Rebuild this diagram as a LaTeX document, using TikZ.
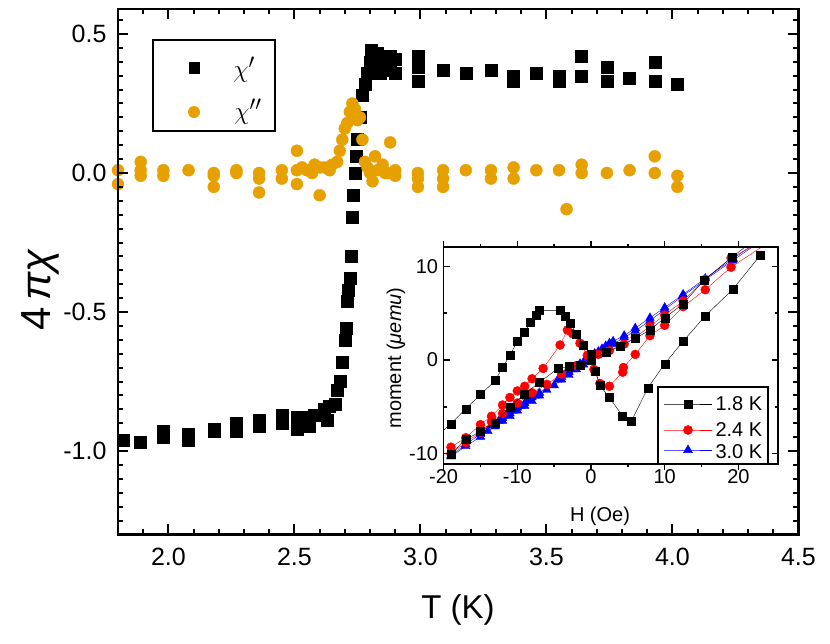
\documentclass[tikz,border=0pt]{standalone}
\usepackage{fontspec}
\setmainfont{Liberation Sans}
\usetikzlibrary{plotmarks}
\definecolor{orng}{RGB}{230,160,0}
\begin{document}
\begin{tikzpicture}[x=1pt,y=-1pt,
  frame/.style={line width=2.6pt},
  tk/.style={line width=2pt},
  lbl/.style={font=\fontsize{25}{28}\selectfont},
  ilbl/.style={font=\fontsize{20}{23}\selectfont}]
\useasboundingbox (0,0) rectangle (830,643);
% ===== main axes (data units) =====
\begin{scope}[shift={(-335.6,173)},x=252pt,y=278pt]
% data chi'
\draw plot[only marks,mark=square*,mark size=6pt,mark options={black}] coordinates {
(1.82,-0.96)(1.89,-0.97)(1.98,-0.95)(1.98,-0.93)(2.08,-0.96)(2.08,-0.94)(2.18,-0.93)(2.18,-0.92)
(2.27,-0.93)(2.27,-0.90)(2.36,-0.91)(2.36,-0.89)(2.45,-0.90)(2.45,-0.87)(2.51,-0.92)(2.51,-0.88)
(2.53,-0.90)(2.55,-0.88)(2.56,-0.91)(2.58,-0.87)(2.60,-0.87)(2.62,-0.85)(2.63,-0.89)(2.64,-0.84)
(2.66,-0.83)(2.67,-0.78)(2.68,-0.75)(2.69,-0.68)(2.70,-0.60)(2.705,-0.56)(2.71,-0.46)(2.715,-0.42)
(2.72,-0.38)(2.725,-0.30)(2.73,-0.16)(2.735,-0.08)(2.74,0.0)(2.745,0.06)(2.75,0.12)(2.76,0.20)
(2.77,0.28)(2.78,0.32)(2.79,0.36)(2.80,0.40)(2.805,0.44)(2.82,0.38)(2.83,0.43)(2.84,0.36)
(2.85,0.41)(2.86,0.39)(2.88,0.42)(2.88,0.37)(2.90,0.41)(2.90,0.36)
(2.99,0.42)(2.99,0.38)(2.99,0.33)(3.09,0.37)(3.18,0.36)(3.28,0.37)(3.37,0.35)(3.37,0.33)
(3.46,0.36)(3.55,0.35)(3.55,0.33)(3.64,0.42)(3.64,0.35)(3.74,0.38)(3.74,0.33)(3.83,0.34)
(3.93,0.40)(3.93,0.33)(4.02,0.32)};
% data chi''
\draw plot[only marks,mark=*,mark size=6pt,mark options={orng,draw=orng}] coordinates {
(1.80,0.01)(1.80,-0.04)(1.89,0.04)(1.89,0.01)(1.89,-0.01)(1.98,0.01)(1.98,-0.01)(2.08,0.01)
(2.18,0.0)(2.18,-0.01)(2.18,-0.05)(2.27,0.01)(2.27,-0.0)(2.36,0.0)(2.36,-0.02)(2.36,-0.07)
(2.45,0.01)(2.45,-0.02)(2.51,-0.04)(2.51,0.01)(2.51,0.08)(2.53,0.02)(2.55,0.01)(2.57,0.0)
(2.58,0.03)(2.60,0.02)(2.60,-0.08)(2.62,0.02)(2.64,0.01)(2.65,0.03)(2.67,0.04)(2.68,0.08)
(2.69,0.12)(2.70,0.16)(2.71,0.18)(2.72,0.22)(2.73,0.25)(2.73,0.20)(2.74,0.23)(2.75,0.19)
(2.76,0.20)(2.77,0.12)(2.78,0.04)(2.79,0.02)(2.80,0.0)(2.81,-0.03)(2.82,0.06)(2.83,0.01)
(2.85,0.03)(2.86,0.0)(2.87,0.0)(2.88,0.11)(2.90,0.01)(2.90,-0.01)
(2.99,0.0)(2.99,-0.02)(2.99,-0.05)(3.09,0.01)(3.09,-0.02)(3.09,-0.05)(3.18,0.01)(3.28,0.01)
(3.28,-0.02)(3.37,0.02)(3.37,-0.02)(3.46,0.01)(3.58,-0.13)(3.55,0.01)(3.64,0.03)(3.64,0.0)
(3.74,0.0)(3.83,0.01)(3.93,0.06)(3.93,0.0)(4.02,-0.01)(4.02,-0.05)};
% frame
\draw[frame] (1.8,-1.3) rectangle (4.5,0.59);
\foreach \t in {2.0,2.5,3.0,3.5,4.0}{
  \draw[tk] (\t,-1.3) -- ++(0,10pt); \draw[tk] (\t,0.59) -- ++(0,-10pt);}
\foreach \t in {1.9,2.1,2.2,2.3,2.4,2.6,2.7,2.8,2.9,3.1,3.2,3.3,3.4,3.6,3.7,3.8,3.9,4.1,4.2,4.3,4.4}{
  \draw[tk] (\t,-1.3) -- ++(0,5pt); \draw[tk] (\t,0.59) -- ++(0,-5pt);}
\foreach \v in {-1.0,-0.5,0.0,0.5}{
  \draw[tk] (1.8,\v) -- ++(10pt,0); \draw[tk] (4.5,\v) -- ++(-10pt,0);}
\foreach \i in {-25,...,11}{
  \pgfmathsetmacro\v{\i*0.05}
  \draw[tk] (1.8,\v) -- ++(5pt,0); \draw[tk] (4.5,\v) -- ++(-5pt,0);}
\foreach \t in {2.0,2.5,3.0,3.5,4.0,4.5}
  \node[lbl,anchor=north] (xt\t) at ([yshift=-10pt]\t,-1.3) {\t};
\foreach \v/\s in {0.5/0.5,0.0/0.0,-0.5/-0.5,-1.0/-1.0}
  \node[lbl,anchor=east] (yt\s) at ([xshift=-8pt]1.8,\v) {\s};
\end{scope}
\node[font=\fontsize{33}{36}\selectfont] (xlab) at (458,610) {T (K)};
\node[font=\fontsize{42}{46}\selectfont,rotate=90] (ylab) at (40,290) {4\,\textit{πχ}};
% main legend
\draw[line width=1.6pt] (153,40) rectangle (275,131);
\node[fill=black,minimum width=11pt,minimum height=12pt,inner sep=0pt] (lg1) at (194,68) {};
\node[fill=orng,circle,minimum size=12pt,inner sep=0pt] (lg2) at (194,112) {};
\node[font=\fontsize{30}{32}\selectfont] (lt1) at (244,70) {$\chi'$};
\node[font=\fontsize{30}{32}\selectfont] (lt2) at (248,112) {$\chi''$};
% ===== inset =====
\fill[white] (444,247) rectangle (778,464);
\begin{scope}[shift={(591,360)},x=7.37pt,y=9.37pt]
\begin{scope}
\clip (-20,-11.1) rectangle (25.4,12.06);
% blue
\draw[blue,line width=0.4pt] plot[mark=triangle*,mark size=5pt,mark options={blue}] coordinates {
(-19,-10.2)(-17,-9.0)(-15,-7.9)(-13.5,-7.0)(-13,-6.7)(-12.5,-6.5)(-12,-6.2)(-11.5,-5.9)(-11,-5.7)(-10.5,-5.4)
(-10,-5.1)(-9.5,-4.9)(-9,-4.6)(-8.5,-4.3)(-8,-4.0)(-7.5,-3.8)(-7,-3.5)(-4.5,-2.1)(-4,-1.8)(-3.5,-1.5)
(-3,-1.3)(-2.5,-1.0)(-2,-0.7)(-1.5,-0.4)(-1,-0.2)(-0.5,0.1)(0,0.4)(0.5,0.7)(1,0.9)(1.5,1.2)(2,1.5)
(2.5,1.8)(3,2.0)(4.5,2.6)(6,3.4)(8,4.5)(10,5.6)(12.5,7.0)(15.5,8.7)(19.3,10.8)(24,13.5)};
\draw[blue,line width=0.4pt] plot[mark=triangle*,mark size=5pt,mark options={blue}] coordinates {
(24,13.2)(19.2,10.6)(15.4,8.5)(12.4,6.8)(10,5.4)(8,4.2)(6,3.1)(4.5,2.4)(3,1.7)(2,1.2)(1,0.6)(0,0.1)
(-1,-0.5)(-2,-1.0)(-3,-1.6)(-4,-2.1)(-5,-2.7)(-6,-3.2)(-7,-3.8)(-8,-4.4)(-9,-4.9)(-10,-5.4)(-11,-6.0)
(-12,-6.5)(-13,-7.1)(-14,-7.6)(-15,-8.2)(-17,-9.2)(-19,-10.3)};
% red
\draw[red,line width=0.4pt] plot[mark=*,mark size=4.5pt,mark options={red}] coordinates {
(24,13)(19,10.9)(15.5,8.6)(12.5,6.3)(10,4.8)(8,3.6)(6,2.4)(4.5,1.7)(2.5,1.0)(1,0.6)(0,0.3)(-2,-0.6)
(-4,-1.5)(-6,-2.6)(-8,-3.5)(-10,-4.6)(-12,-5.7)(-13.5,-6.6)(-15,-7.7)(-17,-8.8)(-19,-10)};
\draw[red,line width=0.4pt] plot[mark=*,mark size=4.5pt,mark options={red}] coordinates {
(24,12.5)(19,9.9)(15.5,7.5)(12.5,5.7)(10,3.7)(8,2.6)(6,0.6)(4.4,-0.8)(4.3,-1.3)(2.5,-2.8)(1.2,-2.5)
(0.4,-1.0)(-0.5,0.5)(-1.5,1.8)(-2.5,2.8)(-3.2,3.2)(-4.2,1.6)(-6.5,-0.9)(-8,-2)(-9,-2.8)(-10,-3.3)
(-11,-4.0)(-12,-4.8)(-13.5,-6.0)(-15,-6.9)(-17,-8.3)(-19,-9.3)};
% black
\draw[black,line width=0.4pt] plot[mark=square*,mark size=4pt,mark options={black}] coordinates {
(23,11.2)(19.3,7.6)(15.5,4.7)(12.5,2)(10,-0.4)(7.7,-3)(5.5,-6.5)(4.3,-6)(2.5,-4)(1.2,-2.7)(0.6,-1.2)
(0,0.6)(-1,1.6)(-2,2.8)(-2.8,3.9)(-3.5,4.7)(-4.2,5.3)(-7,5.3)(-7.5,4.8)(-8.2,4)(-9,3)(-10,2)
(-11,0.5)(-12,-0.8)(-13,-2.2)(-15,-3.7)(-17,-5.2)(-19,-6.8)(-21,-8.2)};
\draw[black,line width=0.4pt] plot[mark=square*,mark size=4pt,mark options={black}] coordinates {
(-19,-10)(-17,-8.5)(-15,-7.6)(-13,-6.7)(-11,-5.0)(-9,-3.6)(-7,-2.4)(-4.5,-0.9)(-3,-0.7)(-1.5,-0.6)
(0,0)(2,0.8)(4,1.5)(6,2.3)(8,3.2)(10,4.5)(12.5,6)(15.3,8.5)(19.2,11)(24,14)};
\end{scope}
\draw[line width=1.6pt] (-20,-11.1) rectangle (25.4,12.06);
\foreach \h in {-20,-10,0,10,20}{
  \draw[line width=1.5pt] (\h,-11.1) -- ++(0,-6pt); \draw[line width=1.5pt] (\h,12.06) -- ++(0,6pt);
  \node[ilbl,anchor=north] (it\h) at ([yshift=-2pt]\h,-11.1) {\h};}
\foreach \h in {-15,-5,5,15}{
  \draw[line width=1.5pt] (\h,-11.1) -- ++(0,-3pt); \draw[line width=1.5pt] (\h,12.06) -- ++(0,3pt);}
\foreach \m in {-10,0,10}{
  \draw[line width=1.5pt] (-20,\m) -- ++(6pt,0); \draw[line width=1.5pt] (25.4,\m) -- ++(-6pt,0);
  \node[ilbl,anchor=east] (im\m) at ([xshift=-2pt]-20,\m) {\m};}
\foreach \m in {-5,5}{
  \draw[line width=1.5pt] (-20,\m) -- ++(3pt,0); \draw[line width=1.5pt] (25.4,\m) -- ++(-3pt,0);}
\end{scope}
\node[ilbl] (hlab) at (600,516) {H (Oe)};
\node[ilbl,rotate=90] (mlab) at (396,358) {moment (\textit{μemu})};
% inset legend
\draw[line width=1.2pt] (658,387) rectangle (768,464);
\draw[black,line width=0.5pt] plot[mark=square*,mark size=4pt,mark indices={2}] coordinates {(664,404)(688,404)(712,404)};
\draw[red,line width=0.5pt] plot[mark=*,mark size=4.5pt,mark indices={2},mark options={red}] coordinates {(664,430)(688,430)(712,430)};
\draw[blue,line width=0.5pt] plot[mark=triangle*,mark size=5pt,mark indices={2},mark options={blue}] coordinates {(664,450)(688,450)(712,450)};
\node[ilbl,anchor=west] (l1) at (712,404) {1.8 K};
\node[ilbl,anchor=west] (l2) at (712,430) {2.4 K};
\node[ilbl,anchor=west] (l3) at (712,452) {3.0 K};
\end{tikzpicture}
\end{document}
